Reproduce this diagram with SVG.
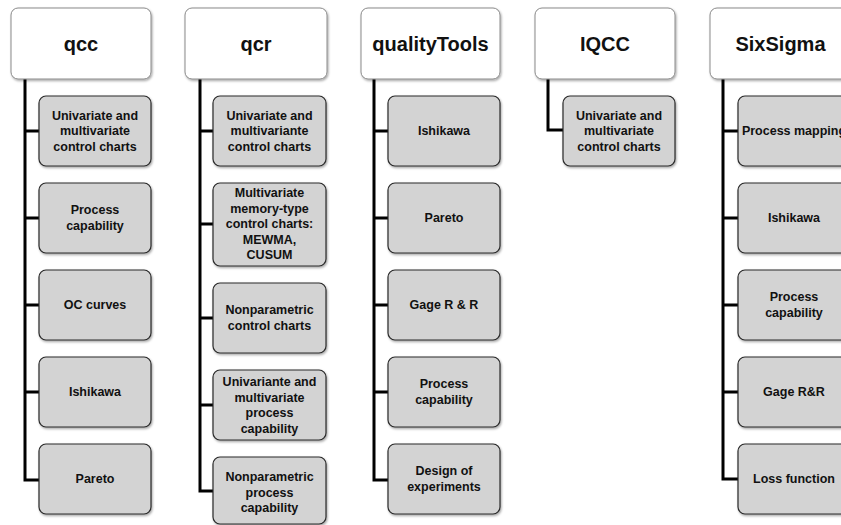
<svg xmlns="http://www.w3.org/2000/svg" width="841" height="525" viewBox="0 0 841 525">
<defs>
<filter id="sh" x="-10%" y="-10%" width="130%" height="130%">
<feDropShadow dx="1" dy="1.5" stdDeviation="1" flood-color="#000" flood-opacity="0.35"/>
</filter>
</defs>
<style>
.hd{fill:#ffffff;stroke:#8a8a8a;stroke-width:1;filter:url(#sh)}
.ch{fill:#d3d3d3;stroke:#2a2a2a;stroke-width:1.2;filter:url(#sh)}
.ht{font-family:"Liberation Sans",Arial,sans-serif;font-weight:bold;font-size:20px;fill:#111;text-anchor:middle}
.ct{font-family:"Liberation Sans",Arial,sans-serif;font-weight:bold;font-size:12.5px;fill:#111;text-anchor:middle}
.ln{fill:none;stroke:#000;stroke-width:3}
</style>
<rect width="841" height="525" fill="#fff"/>
<g id="connectors">
<path class="ln" d="M25,79 V480 H39 M25,131 H39 M25,218 H39 M25,305 H39 M25,392 H39"/>
<path class="ln" d="M200,79 V491 H213 M200,131 H213 M200,224 H213 M200,318 H213 M200,405 H213"/>
<path class="ln" d="M374,79 V480 H388 M374,131 H388 M374,218 H388 M374,305 H388 M374,392 H388"/>
<path class="ln" d="M548,79 V130 H563"/>
<path class="ln" d="M723,79 V479 H738 M723,131 H738 M723,218 H738 M723,305 H738 M723,392 H738"/>
</g>
<g id="qcc">
<rect class="hd" x="11" y="8" width="140" height="71" rx="7"/>
<text class="ht" x="81" y="51">qcc</text>
</g>
<g id="qcc-1"><rect class="ch" x="39" y="96" width="112" height="70" rx="7"/><text class="ct" x="95"><tspan x="95" y="119.5">Univariate and</tspan><tspan x="95" y="135">multivariate</tspan><tspan x="95" y="150.5">control charts</tspan></text></g>
<g id="qcc-2"><rect class="ch" x="39" y="183" width="112" height="70" rx="7"/><text class="ct"><tspan x="95" y="214">Process</tspan><tspan x="95" y="229.5">capability</tspan></text></g>
<g id="qcc-3"><rect class="ch" x="39" y="270" width="112" height="70" rx="7"/><text class="ct" x="95" y="309">OC curves</text></g>
<g id="qcc-4"><rect class="ch" x="39" y="357" width="112" height="70" rx="7"/><text class="ct" x="95" y="396">Ishikawa</text></g>
<g id="qcc-5"><rect class="ch" x="39" y="444" width="112" height="70" rx="7"/><text class="ct" x="95" y="483">Pareto</text></g>

<g id="qcr">
<rect class="hd" x="185" y="8" width="142" height="71" rx="7"/>
<text class="ht" x="256" y="51">qcr</text>
</g>
<g id="qcr-1"><rect class="ch" x="213" y="96" width="113" height="70" rx="7"/><text class="ct"><tspan x="269.5" y="119.5">Univariate and</tspan><tspan x="269.5" y="135">multivariante</tspan><tspan x="269.5" y="150.5">control charts</tspan></text></g>
<g id="qcr-2"><rect class="ch" x="213" y="183" width="113" height="83" rx="7"/><text class="ct"><tspan x="269.5" y="197">Multivariate</tspan><tspan x="269.5" y="212.5">memory-type</tspan><tspan x="269.5" y="228">control charts:</tspan><tspan x="269.5" y="243.5">MEWMA,</tspan><tspan x="269.5" y="259">CUSUM</tspan></text></g>
<g id="qcr-3"><rect class="ch" x="213" y="283" width="113" height="70" rx="7"/><text class="ct"><tspan x="269.5" y="314">Nonparametric</tspan><tspan x="269.5" y="329.5">control charts</tspan></text></g>
<g id="qcr-4"><rect class="ch" x="213" y="370" width="113" height="70" rx="7"/><text class="ct"><tspan x="269.5" y="386">Univariante and</tspan><tspan x="269.5" y="401.5">multivariate</tspan><tspan x="269.5" y="417">process</tspan><tspan x="269.5" y="432.5">capability</tspan></text></g>
<g id="qcr-5"><rect class="ch" x="213" y="457" width="113" height="67" rx="7"/><text class="ct"><tspan x="269.5" y="481">Nonparametric</tspan><tspan x="269.5" y="496.5">process</tspan><tspan x="269.5" y="512">capability</tspan></text></g>

<g id="qualityTools">
<rect class="hd" x="361" y="8" width="139" height="71" rx="7"/>
<text class="ht" x="430.5" y="51">qualityTools</text>
</g>
<g id="qt-1"><rect class="ch" x="388" y="96" width="112" height="70" rx="7"/><text class="ct" x="444" y="135">Ishikawa</text></g>
<g id="qt-2"><rect class="ch" x="388" y="183" width="112" height="70" rx="7"/><text class="ct" x="444" y="222">Pareto</text></g>
<g id="qt-3"><rect class="ch" x="388" y="270" width="112" height="70" rx="7"/><text class="ct" x="444" y="309">Gage R &amp; R</text></g>
<g id="qt-4"><rect class="ch" x="388" y="357" width="112" height="70" rx="7"/><text class="ct"><tspan x="444" y="388">Process</tspan><tspan x="444" y="403.5">capability</tspan></text></g>
<g id="qt-5"><rect class="ch" x="388" y="444" width="112" height="70" rx="7"/><text class="ct"><tspan x="444" y="475">Design of</tspan><tspan x="444" y="490.5">experiments</tspan></text></g>

<g id="IQCC">
<rect class="hd" x="535" y="8" width="140" height="71" rx="7"/>
<text class="ht" x="605" y="51">IQCC</text>
</g>
<g id="iqcc-1"><rect class="ch" x="563" y="96" width="112" height="70" rx="7"/><text class="ct"><tspan x="619" y="119.5">Univariate and</tspan><tspan x="619" y="135">multivariate</tspan><tspan x="619" y="150.5">control charts</tspan></text></g>

<g id="SixSigma">
<rect class="hd" x="710" y="8" width="141" height="71" rx="7"/>
<text class="ht" x="780.5" y="51">SixSigma</text>
</g>
<g id="ss-1"><rect class="ch" x="738" y="96" width="112" height="70" rx="7"/><text class="ct" x="794" y="135">Process mapping</text></g>
<g id="ss-2"><rect class="ch" x="738" y="183" width="112" height="70" rx="7"/><text class="ct" x="794" y="222">Ishikawa</text></g>
<g id="ss-3"><rect class="ch" x="738" y="270" width="112" height="70" rx="7"/><text class="ct"><tspan x="794" y="301">Process</tspan><tspan x="794" y="316.5">capability</tspan></text></g>
<g id="ss-4"><rect class="ch" x="738" y="357" width="112" height="70" rx="7"/><text class="ct" x="794" y="396">Gage R&amp;R</text></g>
<g id="ss-5"><rect class="ch" x="738" y="444" width="112" height="70" rx="7"/><text class="ct" x="794" y="483">Loss function</text></g>
</svg>
